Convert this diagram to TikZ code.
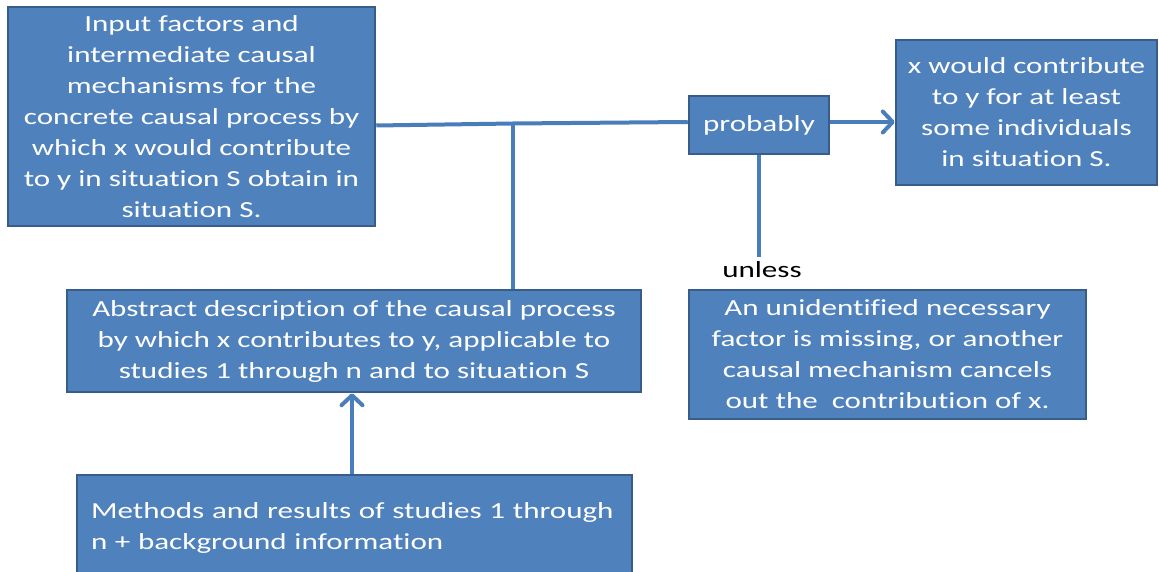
\documentclass[tikz,border=0pt]{standalone}
\usepackage{fontspec}
\setmainfont{Carlito}[FakeStretch=1.35,Ligatures={NoCommon}]
\usetikzlibrary{arrows.meta}
\definecolor{boxfill}{HTML}{4F81BD}
\definecolor{boxdraw}{HTML}{385D8A}
\definecolor{linkcol}{HTML}{4A7EBB}
\begin{document}
\begin{tikzpicture}[x=1pt,y=-1pt,
 box/.style={draw=boxdraw,fill=boxfill,line width=2.5pt,text=white,font=\fontsize{23}{31}\selectfont,align=center,inner sep=0pt},
 link/.style={draw=linkcol,line width=4pt},
 arr/.style={link,-{Straight Barb[length=10pt,width=21pt,line width=4pt,round]}}]
\useasboundingbox[fill=white] (0,0) rectangle (1159,572);
\node[box,minimum width=367pt,minimum height=219pt] (input) at (191.5,116.5)
 {Input factors and\\ intermediate causal\\ mechanisms for the\\ concrete causal process by\\ which x would contribute\\ to y in situation S obtain in\\ situation S.};
\node[box,minimum width=140pt,minimum height=58pt,text depth=2pt] (prob) at (759,125) {probably};
\node[box,minimum width=261pt,minimum height=145pt] (xbox) at (1026.5,112.5)
 {x would contribute\\ to y for at least\\ some individuals\\ in situation S.};
\node[box,minimum width=574pt,minimum height=102pt] (abs) at (354,341)
 {Abstract description of the causal process\\ by which x contributes to y, applicable to\\ studies 1 through n and to situation S};
\node[box,minimum width=397pt,minimum height=129pt] (unid) at (887.5,354.5)
 {An unidentified necessary\\ factor is missing, or another\\ causal mechanism cancels\\ out the\ \ contribution of x.};
\node[box,minimum width=555pt,minimum height=106pt,text width=527pt,align=left] (meth) at (354.5,528)
 {Methods and results of studies 1 through\\ n + background information};
\node[font=\fontsize{23}{31}\selectfont,inner sep=0pt] (unless) at (762,270) {unless};
\coordinate (j) at (513,123.5);
\coordinate (u) at (759,257);
\draw[link] ([yshift=-9pt]input.east) -- (j) -- ([yshift=3pt]prob.west);
\draw[link] (j) -- (abs.north -| j);
\draw[arr] ([yshift=3pt]prob.east) -- ([yshift=3pt]prob.east -| xbox.west);
\draw[link] (prob.south) -- (u);
\draw[arr] (meth.north -| 352,0) -- (abs.south -| 352,0);
\end{tikzpicture}
\end{document}
